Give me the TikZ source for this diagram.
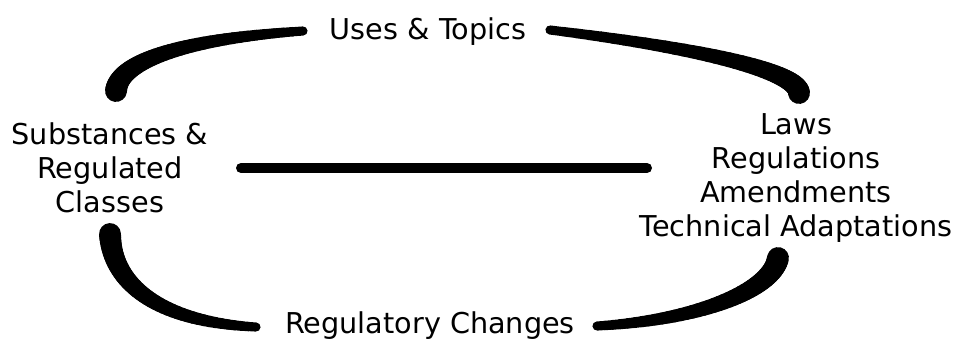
\documentclass[tikz,border=0pt]{standalone}
\usepackage{fontspec}
\setmainfont{DejaVu Sans}
\usetikzlibrary{calc}
\tikzset{
  lbl/.style={font=\fontsize{28.7}{33.8}\selectfont, inner sep=0pt, align=center, text=black},
  bar/.style={line width=10pt, line cap=round, draw=black},
}
% tapered stroke: start, c1, c2, end, width at start, width at end
\newcommand\taperstroke[6]{%
  \path (#1) .. controls (#2) and (#3) .. (#4)
    \foreach \k [evaluate=\k as \tq using \k/40] in {0,...,40}{coordinate[pos=\tq] (tp\k)};
  \foreach \k [evaluate=\k as \kn using int(\k+1), evaluate=\k as \ww using #5+(#6-#5)*(\k+0.5)/40] in {0,...,39}
    {\draw[line width=\ww pt, line cap=round, black] (tp\k) -- (tp\kn);}
}
\begin{document}
\begin{tikzpicture}[x=1pt,y=-1pt]
\useasboundingbox (0,0) rectangle (960,338);

% anchor=base of a multi-line node is the baseline of its last line
\node[lbl, anchor=base] (uses) at (428,39) {Uses \& Topics};
\node[lbl, anchor=base] (reg) at (430,333) {Regulatory Changes};
\node[lbl, anchor=base] (subs) at (110,212) {Substances \&\\Regulated\\Classes};
\node[lbl, anchor=base] (laws) at (796,236) {Laws\\Regulations\\Amendments\\Technical Adaptations};

% central bar
\coordinate (hl) at (241,168);
\coordinate (hr) at (647,168);
\draw[bar] (hl) -- (hr);

% top-left arc
\coordinate (tla) at (116,91);
\coordinate (tlb) at (303,31);
\taperstroke{tla}{118,65}{170,40}{tlb}{22}{9}

% top-right arc
\coordinate (tra) at (799,93);
\coordinate (trb) at (550,30);
\taperstroke{tra}{798,75}{730,52}{trb}{22}{9}

% bottom-left arc
\coordinate (bla) at (110,234);
\coordinate (blb) at (256,327);
\taperstroke{bla}{112,285}{160,322}{blb}{22}{9}

% bottom-right arc
\coordinate (bra) at (778,258);
\coordinate (brb) at (597,326);
\taperstroke{bra}{772,290}{700,320}{brb}{22}{9}
\end{tikzpicture}
\end{document}
